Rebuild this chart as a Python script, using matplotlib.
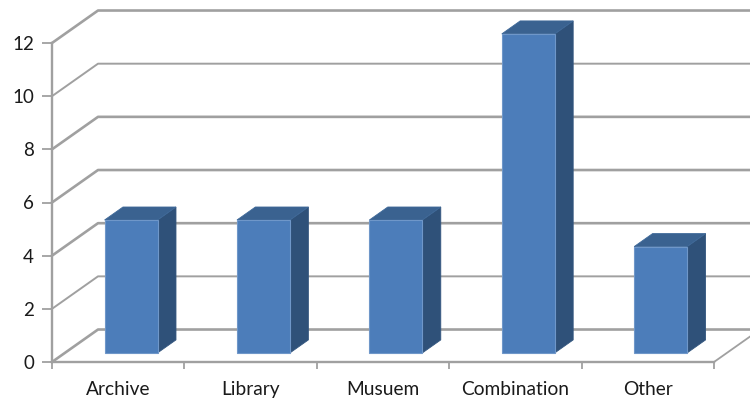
import matplotlib
matplotlib.use("Agg")
import matplotlib.pyplot as plt
from matplotlib.patches import Polygon

categories = ["Archive", "Library", "Musuem", "Combination", "Other"]
values = [5, 5, 5, 12, 4]
y_ticks = [0, 2, 4, 6, 8, 10, 12]

W, H = 750, 401
# plot box in pixels, measured on the reference
left, right, bottom, top = 52, 714, 362, 43

# depth of the 3d box, in data units
depth_x = 46 / 132.4
depth_y = 32.5 / 26.6
bar_w = 53 / 132.4
d_front = 0.28
d_back = 0.68

grid_col = "#a0a0a0"
text_col = "#1a1a1a"


def proj(x, y, d):
    return x + d * depth_x, y + d * depth_y


fig = plt.figure(figsize=(W / 100, H / 100), dpi=100)
ax = fig.add_axes([left / W, 1 - bottom / H, (right - left) / W, (bottom - top) / H])
ax.set_xlim(0, len(categories))
ax.set_ylim(0, 12)
ax.patch.set_visible(False)

for s in ["top", "right"]:
    ax.spines[s].set_visible(False)
for s in ["left", "bottom"]:
    ax.spines[s].set_color(grid_col)
    ax.spines[s].set_linewidth(1.7)

# walls and floor
xmax_back = (750 - left) / 132.4
for v in y_ticks:
    lw = 1.4 if v in (2, 10) else 1.9
    x0, y0 = proj(0, v, 1)
    ax.plot([0, x0, xmax_back], [v, y0, y0], color=grid_col, lw=lw, clip_on=False, zorder=1)

x1, y1 = proj(len(categories), 0, 0.8)
ax.plot([len(categories), x1], [0, y1], color=grid_col, lw=1.3, clip_on=False, zorder=1)

# bars
for i, v in enumerate(values):
    xa = i + 0.5 - bar_w / 2
    xb = i + 0.5 + bar_w / 2
    front = [proj(xa, 0, d_front), proj(xb, 0, d_front), proj(xb, v, d_front), proj(xa, v, d_front)]
    side = [proj(xb, 0, d_front), proj(xb, 0, d_back), proj(xb, v, d_back), proj(xb, v, d_front)]
    roof = [proj(xa, v, d_front), proj(xb, v, d_front), proj(xb, v, d_back), proj(xa, v, d_back)]
    ax.add_patch(Polygon(side, fc="#2f5179", ec="#33567f", lw=0.6, clip_on=False, zorder=3))
    ax.add_patch(Polygon(roof, fc="#3a6290", ec="#3f6999", lw=0.6, clip_on=False, zorder=3))
    ax.add_patch(Polygon(front, fc="#4c7dba", ec="#6f97c9", lw=0.8, clip_on=False, zorder=4))

ax.set_yticks(y_ticks)
ax.set_xticks(range(len(categories) + 1))
ax.set_xticklabels([])
ax.set_xticks([i + 0.5 for i in range(len(categories))], minor=True)
ax.set_xticklabels(categories, minor=True, fontfamily="Lato", fontsize=13.8, color=text_col)
ax.tick_params(axis="x", which="major", length=5, width=1.3, color=grid_col)
ax.tick_params(axis="x", which="minor", length=0, pad=14)
ax.tick_params(axis="y", length=7, width=1.3, color=grid_col, labelsize=13.5, labelcolor=text_col, pad=6)
for t in ax.get_yticklabels():
    t.set_fontfamily("Lato")

fig.savefig("out.png", dpi=100)
